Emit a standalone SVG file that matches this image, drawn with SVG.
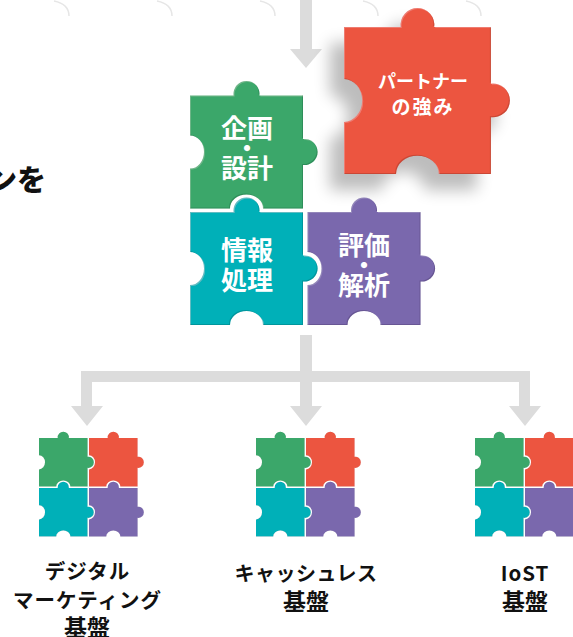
<svg xmlns="http://www.w3.org/2000/svg" width="573" height="637" viewBox="0 0 573 637">
<style>
text{font-family:"Noto Sans CJK JP","Noto Sans",sans-serif;font-weight:700;text-anchor:middle}
.w{fill:#fff;font-size:26px}
.dot{font-size:22px;font-weight:900}
.p{fill:#fff;font-size:18px}
.p2{letter-spacing:2px;font-size:19px}
.l{fill:#111;font-size:20.500px;letter-spacing:1px}
.tight{letter-spacing:.5px;font-size:20px}
.b{font-size:23px;letter-spacing:0}
.head{fill:#111;font-size:29px;font-weight:900;text-anchor:end}
.g{fill:#3aa76b}.r{fill:#ec5541}.t{fill:#00b0b8}.v{fill:#7a68ad}
.arrow{fill:#dcdcdc}
.arc{fill:none;stroke:#e6e6e6;stroke-width:1.5}
.piece{filter:url(#bevel)}
</style>
<defs>
<path id="piece" d="M0 0H43.6A13 13 0 1 1 69.4 0H113V43.6A13 13 0 1 1 113 69.4V113H73A16.5 14 0 0 0 40 113H0V73A14 16.5 0 0 0 0 40Z"/>
<filter id="bevel" x="-10%" y="-10%" width="120%" height="120%">
<feOffset in="SourceAlpha" dx="-1" dy="-1" result="o1"/>
<feGaussianBlur in="o1" stdDeviation=".6" result="b1"/>
<feComposite in="SourceAlpha" in2="b1" operator="out" result="e1"/>
<feFlood flood-color="#000" flood-opacity=".3"/>
<feComposite in2="e1" operator="in" result="dark"/>
<feOffset in="SourceAlpha" dx="1" dy="1" result="o2"/>
<feGaussianBlur in="o2" stdDeviation=".6" result="b2"/>
<feComposite in="SourceAlpha" in2="b2" operator="out" result="e2"/>
<feFlood flood-color="#fff" flood-opacity=".12"/>
<feComposite in2="e2" operator="in" result="light"/>
<feMerge><feMergeNode in="SourceGraphic"/><feMergeNode in="dark"/><feMergeNode in="light"/></feMerge>
</filter>
<filter id="drop" x="-30%" y="-30%" width="160%" height="160%">
<feGaussianBlur stdDeviation="6"/>
</filter>
<g id="icon">
<use href="#piece" class="g piece" transform="scale(.43)"/>
<use href="#piece" class="r piece" transform="translate(50 0) scale(.43)"/>
<use href="#piece" class="t piece" transform="translate(0 50) scale(.43)"/>
<use href="#piece" class="v piece" transform="translate(50 50) scale(.43)"/>
</g>
</defs>
<rect width="573" height="637" fill="#fff"/>
<g id="corner-arcs">
<path class="arc" d="M54 1Q69 4 69 16"/>
<path class="arc" d="M157 1Q172 4 172 16"/>
<path class="arc" d="M260 1Q275 4 275 16"/>
<path class="arc" d="M363 1Q378 4 378 16"/>
<path class="arc" d="M466 1Q481 4 481 16"/>
</g>
<text class="head" x="46" y="191">ンを</text>
<g id="connectors">
<path class="arrow" d="M300 0H312V49H322L306 68L290 49H300Z"/>
<path class="arrow" d="M300 335H312V371H530V406H541L525 426L509 406H519V382H312V406H322L306 426L290 406H300V382H92V406H103L87 426L71 406H81V371H300Z"/>
</g>
<g id="partner">
<use href="#piece" fill="#000" opacity=".26" filter="url(#drop)" transform="translate(330 43) scale(1.3)"/>
<use href="#piece" class="r piece" transform="translate(344 27) scale(1.3)"/>
<text class="p" x="423" y="88">パートナー</text>
<text class="p p2" x="423" y="114">の強み</text>
</g>
<g id="planning">
<use href="#piece" class="g piece" transform="translate(190 95.5)"/>
<text class="w" x="247" y="138">企画<tspan class="dot" x="247" y="156">・</tspan><tspan x="247" y="178">設計</tspan></text>
</g>
<g id="information">
<use href="#piece" class="t piece" transform="translate(190 212)"/>
<text class="w" x="247" y="260">情報<tspan x="247" y="290">処理</tspan></text>
</g>
<g id="evaluation">
<use href="#piece" class="v piece" transform="translate(307.500 212)"/>
<text class="w" x="364" y="255">評価<tspan class="dot" x="364" y="273">・</tspan><tspan x="364" y="295">解析</tspan></text>
</g>
<g id="digital-marketing">
<use href="#icon" transform="translate(39 438)"/>
<text class="l" x="87.500" y="579">デジタル</text>
<text class="l" x="87.500" y="608">マーケティング</text>
<text class="l b" x="87" y="636">基盤</text>
</g>
<g id="cashless">
<use href="#icon" transform="translate(256 438)"/>
<text class="l tight" x="306" y="581">キャッシュレス</text>
<text class="l b" x="306" y="610">基盤</text>
</g>
<g id="iost">
<use href="#icon" transform="translate(475 438)"/>
<text class="l" x="525" y="581">IoST</text>
<text class="l b" x="525" y="610">基盤</text>
</g>
</svg>
